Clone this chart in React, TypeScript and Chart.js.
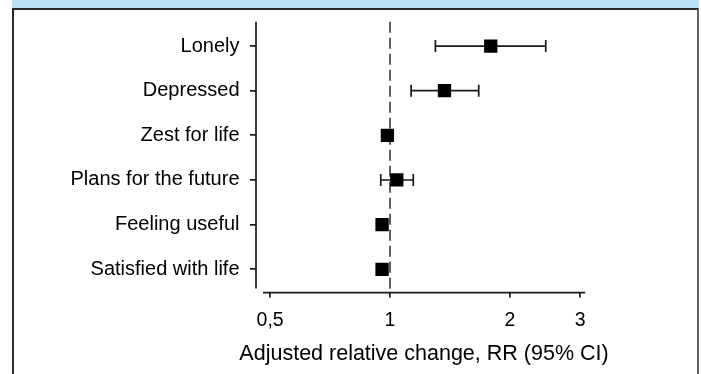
import React, { useEffect, useRef } from 'react';
import { Chart, registerables } from 'chart.js';

Chart.register(...registerables);

const categories = [
  'Lonely',
  'Depressed',
  'Zest for life',
  'Plans for the future',
  'Feeling useful',
  'Satisfied with life',
];
const rrValues = [1.79, 1.37, 0.985, 1.04, 0.955, 0.955];
const ciLower = [1.3, 1.13, 0.96, 0.948, 0.93, 0.93];
const ciUpper = [2.46, 1.67, 1.015, 1.144, 0.985, 0.985];
const xTickValues = [0.5, 1, 2, 3];
const xTickLabels = ['0,5', '1', '2', '3'];
const referenceValue = 1;
const axisLineRange = [0.48, 3.09];
const xAxisTitle = 'Adjusted relative change, RR (95% CI)';

const FONT = '"Liberation Sans", Arial, Helvetica, sans-serif';
const INK = '#1a1a1a';
const TEXT = '#000';

const forestPlugin = {
  id: 'forest',
  beforeDatasetsDraw(chart: any) {
    const { ctx, chartArea, scales } = chart;
    const x = scales.x;
    const y = scales.y;
    ctx.save();
    ctx.strokeStyle = INK;
    ctx.lineWidth = 1.7;
    // y axis line
    ctx.beginPath();
    ctx.moveTo(chartArea.left, chartArea.top - 2);
    ctx.lineTo(chartArea.left, chartArea.bottom - 3);
    ctx.stroke();
    // x axis line
    const xl = x.getPixelForValue(axisLineRange[0]);
    const xr = x.getPixelForValue(axisLineRange[1]);
    ctx.beginPath();
    ctx.moveTo(xl, chartArea.bottom + 1);
    ctx.lineTo(xr, chartArea.bottom + 1);
    ctx.stroke();
    // reference dashed line
    const rx = x.getPixelForValue(referenceValue);
    ctx.lineWidth = 1.4;
    ctx.setLineDash([11, 5]);
    ctx.beginPath();
    ctx.moveTo(rx, chartArea.top - 2);
    ctx.lineTo(rx, chartArea.bottom + 1);
    ctx.stroke();
    ctx.setLineDash([]);
    // confidence intervals
    ctx.lineWidth = 1.7;
    categories.forEach((_c, i) => {
      const py = y.getPixelForValue(i);
      const lo = x.getPixelForValue(ciLower[i]);
      const hi = x.getPixelForValue(ciUpper[i]);
      ctx.beginPath();
      ctx.moveTo(lo, py);
      ctx.lineTo(hi, py);
      ctx.moveTo(lo, py - 6);
      ctx.lineTo(lo, py + 6);
      ctx.moveTo(hi, py - 6);
      ctx.lineTo(hi, py + 6);
      ctx.stroke();
    });
    ctx.restore();
  },
  afterDraw(chart: any) {
    const { ctx, chartArea } = chart;
    ctx.save();
    ctx.fillStyle = TEXT;
    ctx.font = `21.5px ${FONT}`;
    ctx.textAlign = 'center';
    ctx.textBaseline = 'middle';
    ctx.fillText(xAxisTitle, (chartArea.left + chartArea.right) / 2, chartArea.bottom + 62);
    ctx.restore();
  },
};

export default function App() {
  const canvasRef = useRef<HTMLCanvasElement | null>(null);

  useEffect(() => {
    const canvas = canvasRef.current;
    if (!canvas) return;
    const chart = new Chart(canvas, {
      type: 'scatter',
      data: {
        datasets: [
          {
            data: categories.map((c, i) => ({ x: rrValues[i], y: c })) as any,
            pointStyle: 'rect',
            pointRadius: 9.4,
            pointHoverRadius: 9.4,
            backgroundColor: '#000',
            borderColor: '#000',
            borderWidth: 0,
          },
        ],
      },
      options: {
        animation: false,
        responsive: false,
        events: [],
        devicePixelRatio: 1,
        layout: { padding: { top: 23.7, left: 0, right: 109, bottom: 0 } },
        plugins: {
          legend: { display: false },
          tooltip: { enabled: false },
        },
        scales: {
          x: {
            type: 'logarithmic',
            position: 'bottom',
            min: 0.4609,
            max: 3.214,
            bounds: 'data',
            afterBuildTicks: (s: any) => {
              s.ticks = xTickValues.map((v) => ({ value: v }));
            },
            afterFit: (s: any) => {
              s.height = 82.4;
            },
            ticks: {
              autoSkip: false,
              maxRotation: 0,
              padding: 11.5,
              color: TEXT,
              font: { family: FONT, size: 19.5 },
              callback: (v: any) => {
                const i = xTickValues.indexOf(Number(v));
                return i >= 0 ? xTickLabels[i] : '';
              },
            },
            grid: {
              drawOnChartArea: false,
              drawTicks: true,
              tickLength: 6,
              color: INK,
              lineWidth: 1.7,
            },
            border: { display: false },
            title: { display: false },
          } as any,
          y: {
            type: 'category',
            labels: categories,
            offset: true,
            afterFit: (s: any) => {
              s.width = 256;
            },
            ticks: {
              padding: 10.5,
              color: TEXT,
              font: { family: FONT, size: 20 },
            },
            grid: {
              drawOnChartArea: false,
              drawTicks: true,
              tickLength: 6,
              color: INK,
              lineWidth: 1.7,
              offset: false,
            },
            border: { display: false },
          } as any,
        },
      },
      plugins: [forestPlugin],
    });
    return () => chart.destroy();
  }, []);

  return (
    <div
      style={{
        position: 'fixed',
        left: 0,
        top: 0,
        width: 701,
        height: 374,
        background: '#fff',
        overflow: 'hidden',
      }}
    >
      <div
        style={{
          position: 'absolute',
          left: 12,
          top: 0,
          width: 687,
          height: 9,
          background: '#bae2f6',
        }}
      />
      <div
        style={{
          position: 'absolute',
          left: 12,
          top: 8,
          width: 687,
          height: 420,
          boxSizing: 'border-box',
          borderLeft: '2px solid #2a2a2a',
          borderTop: '2px solid #2a2a2a',
          borderRight: '2px solid #666',
          background: '#fff',
        }}
      />
      <canvas
        ref={canvasRef}
        width={701}
        height={374}
        style={{ position: 'absolute', left: 0, top: 0, width: 701, height: 374 }}
      />
    </div>
  );
}
